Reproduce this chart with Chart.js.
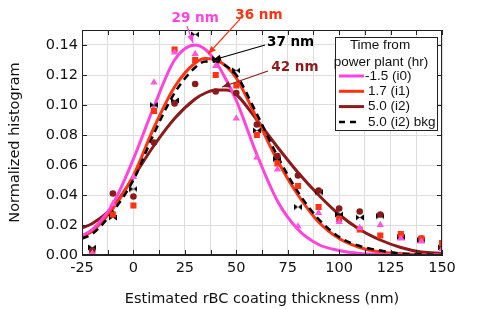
<!DOCTYPE html>
<html>
<head>
<meta charset="utf-8">
<script src="https://cdn.jsdelivr.net/npm/chart.js@4.4.1/dist/chart.umd.min.js"></script>
<style>
  body { margin: 0; background: #fff; }
  #wrap { width: 478px; height: 309px; }
</style>
</head>
<body>
<div id="wrap"><canvas id="myChart" width="478" height="309"></canvas></div>
<script>
// fitted curves
var curveX = [-25, -20, -10, 0, 10, 20, 30, 35, 40, 45, 50, 60, 70, 80, 90, 100, 110, 120, 130, 140, 150];
var fitI0  = [0.013, 0.017, 0.034, 0.064, 0.099, 0.130, 0.140, 0.137, 0.129, 0.117, 0.103, 0.067, 0.036, 0.017, 0.007, 0.003, 0.001, 0.0004, 0.0001, 0, 0];
var fitI1  = [0.012, 0.016, 0.031, 0.053, 0.085, 0.112, 0.128, 0.131, 0.130, 0.126, 0.118, 0.091, 0.063, 0.040, 0.022, 0.011, 0.005, 0.002, 0.001, 0.0003, 0];
var fitI2  = [0.018, 0.021, 0.032, 0.052, 0.073, 0.091, 0.104, 0.108, 0.110, 0.110, 0.107, 0.090, 0.072, 0.055, 0.040, 0.027, 0.017, 0.010, 0.005, 0.002, 0.001];
var fitBkg = [0.011, 0.014, 0.029, 0.050, 0.081, 0.108, 0.125, 0.129, 0.129, 0.126, 0.120, 0.094, 0.066, 0.042, 0.024, 0.012, 0.006, 0.003, 0.001, 0.0005, 0];

// histogram points
var binX    = [-20, -10, 0, 10, 20, 30, 40, 50, 60, 70, 80, 90, 100, 110, 120, 130, 140, 150];
var histI0  = [0.001, 0.034, 0.052, 0.115, 0.135, 0.134, 0.126, 0.091, 0.065, 0.057, 0.019, 0.028, 0.022, 0.018, 0.020, 0.011, 0.009, 0.004];
var histI1  = [0.000, 0.027, 0.033, 0.096, 0.137, 0.130, 0.120, 0.113, 0.080, 0.061, 0.046, 0.032, 0.024, 0.017, 0.013, 0.014, 0.011, 0.008];
var histI2  = [0.003, 0.041, 0.039, 0.075, 0.101, 0.114, 0.109, 0.108, 0.087, 0.066, 0.053, 0.043, 0.031, 0.029, 0.027, 0.013, 0.011, 0.006];
var histBkg = [0.005, 0.025, 0.044, 0.100, 0.103, 0.147, 0.131, 0.123, 0.083, 0.064, 0.032, 0.042, 0.027, 0.025, 0.026, 0.012, 0.010, 0.005];

var yTicks = [0, 0.02, 0.04, 0.06, 0.08, 0.10, 0.12, 0.14];
var legendTitle = ['Time from', 'power plant (hr)'];
var legendLabels = ['-1.5 (i0)', '1.7 (i1)', '5.0 (i2)', '5.0 (i2) bkg'];
var peakLabels = ['29 nm', '36 nm', '37 nm', '42 nm'];

var xTitle = 'Estimated rBC coating thickness (nm)';
var yTitle = 'Normalized histogram';

var PINK = '#ff44dd', RED = '#ff3311', DARK = '#8b1a1a', BLACK = '#000000';
var FONT = "'DejaVu Sans', sans-serif";

function pts(xs, ys) {
  return xs.map(function (x, i) { return { x: x, y: ys[i] }; });
}

// bow-tie marker for the bkg points
var bkgMark = document.createElement('canvas');
bkgMark.width = 8; bkgMark.height = 7;
var bc = bkgMark.getContext('2d');
bc.fillStyle = '#000';
bc.beginPath(); bc.moveTo(0, 0.5); bc.lineTo(4, 3.5); bc.lineTo(0, 6.5); bc.closePath(); bc.fill();
bc.beginPath(); bc.moveTo(8, 0.5); bc.lineTo(4, 3.5); bc.lineTo(8, 6.5); bc.closePath(); bc.fill();

// arrows to the fitted peaks (data coords)
var notes = [
  { text: peakLabels[0], color: PINK,  tx: 30,   ty: 0.158,  fx: 26,   fy: 0.1527, ax: 29,   ay: 0.1413 },
  { text: peakLabels[1], color: RED,   tx: 61,   ty: 0.160,  fx: 51.8, fy: 0.1573, ax: 36.3, ay: 0.134 },
  { text: peakLabels[2], color: BLACK, tx: 76.4, ty: 0.142,  fx: 64,   fy: 0.140,  ax: 38.7, ay: 0.130 },
  { text: peakLabels[3], color: DARK,  tx: 78.5, ty: 0.1247, fx: 65.4, fy: 0.1227, ax: 43.1, ay: 0.112 }
];

function arrow(ctx, x1, y1, x2, y2, color) {
  ctx.strokeStyle = color; ctx.fillStyle = color; ctx.lineWidth = 1.2;
  ctx.beginPath(); ctx.moveTo(x1, y1); ctx.lineTo(x2, y2); ctx.stroke();
  var a = Math.atan2(y2 - y1, x2 - x1), L = 8, W = 3.2;
  ctx.beginPath();
  ctx.moveTo(x2, y2);
  ctx.lineTo(x2 - L * Math.cos(a) + W * Math.sin(a), y2 - L * Math.sin(a) - W * Math.cos(a));
  ctx.lineTo(x2 - L * Math.cos(a) - W * Math.sin(a), y2 - L * Math.sin(a) + W * Math.cos(a));
  ctx.closePath(); ctx.fill();
}

var extras = {
  id: 'extras',
  afterDraw: function (chart) {
    var ctx = chart.ctx, a = chart.chartArea, xs = chart.scales.x, ys = chart.scales.y;
    ctx.save();
    // frame + inward ticks
    ctx.strokeStyle = '#222'; ctx.lineWidth = 1;
    ctx.strokeRect(a.left + 0.5, a.top + 0.5, a.right - a.left - 1, a.bottom - a.top - 1);
    ctx.beginPath();
    xs.ticks.forEach(function (t) {
      var px = Math.round(xs.getPixelForValue(t.value)) + 0.5;
      ctx.moveTo(px, a.bottom); ctx.lineTo(px, a.bottom - 5);
      ctx.moveTo(px, a.top); ctx.lineTo(px, a.top + 5);
    });
    ys.ticks.forEach(function (t) {
      var py = Math.round(ys.getPixelForValue(t.value)) + 0.5;
      ctx.moveTo(a.left, py); ctx.lineTo(a.left + 5, py);
      ctx.moveTo(a.right, py); ctx.lineTo(a.right - 5, py);
    });
    ctx.stroke();

    // peak annotations
    ctx.font = 'bold 13.5px ' + FONT;
    ctx.textAlign = 'center'; ctx.textBaseline = 'middle';
    notes.forEach(function (n) {
      ctx.fillStyle = n.color;
      ctx.fillText(n.text, xs.getPixelForValue(n.tx), ys.getPixelForValue(n.ty));
      arrow(ctx, xs.getPixelForValue(n.fx), ys.getPixelForValue(n.fy),
            xs.getPixelForValue(n.ax), ys.getPixelForValue(n.ay), n.color);
    });

    // legend box
    var bx = a.right - 107, by = a.top + 7, bw = 102, bh = 93;
    ctx.fillStyle = '#fff'; ctx.fillRect(bx, by, bw, bh);
    ctx.strokeStyle = '#222'; ctx.lineWidth = 1;
    ctx.strokeRect(bx + 0.5, by + 0.5, bw, bh);
    ctx.fillStyle = '#111';
    ctx.font = "13.5px 'Liberation Sans', Arial, sans-serif";
    ctx.textAlign = 'center';
    ctx.fillText(legendTitle[0], bx + 45, by + 8);
    ctx.fillText(legendTitle[1], bx + 46, by + 25);
    var cols = [PINK, RED, DARK, BLACK];
    ctx.textAlign = 'left';
    legendLabels.forEach(function (lab, i) {
      var ly = by + 39 + i * 15.3;
      ctx.strokeStyle = cols[i]; ctx.lineWidth = 3;
      if (i === 3) { ctx.setLineDash([6, 5]); ctx.lineWidth = 2.5; }
      ctx.beginPath(); ctx.moveTo(bx + 4, ly); ctx.lineTo(bx + (i === 3 ? 22 : 29), ly); ctx.stroke();
      ctx.setLineDash([]);
      ctx.fillText(lab, bx + (i === 0 ? 30 : 33), ly);
    });
    ctx.restore();
  }
};

var datasets = [
  { data: pts(curveX, fitI0),  showLine: true, borderColor: PINK,  borderWidth: 3,   pointRadius: 0, cubicInterpolationMode: 'monotone', order: 2 },
  { data: pts(curveX, fitI1),  showLine: true, borderColor: RED,   borderWidth: 3,   pointRadius: 0, cubicInterpolationMode: 'monotone', order: 2 },
  { data: pts(curveX, fitI2),  showLine: true, borderColor: DARK,  borderWidth: 3,   pointRadius: 0, cubicInterpolationMode: 'monotone', order: 2 },
  { data: pts(curveX, fitBkg), showLine: true, borderColor: BLACK, borderWidth: 2.5, borderDash: [7, 5], pointRadius: 0, cubicInterpolationMode: 'monotone', order: 1 },
  { data: pts(binX, histI0),  pointStyle: 'triangle', pointRadius: 4.2, backgroundColor: '#ff55e0', borderWidth: 0, order: 0 },
  { data: pts(binX, histI1),  pointStyle: 'rect',     pointRadius: 4.3, backgroundColor: RED,       borderWidth: 0, order: 0 },
  { data: pts(binX, histI2),  pointStyle: 'circle',   pointRadius: 3.3, backgroundColor: DARK,      borderWidth: 0, order: 0 },
  { data: pts(binX, histBkg), pointStyle: bkgMark,    pointRadius: 4,   backgroundColor: BLACK,     borderWidth: 0, order: 0 }
];

var config = {
  type: 'scatter',
  data: { datasets: datasets },
  options: {
    responsive: false,
    animation: false,
    devicePixelRatio: 1,
    layout: { padding: { top: 30, right: 36, left: 0, bottom: 0 } },
    plugins: { legend: { display: false }, tooltip: { enabled: false } },
    scales: {
      x: {
        type: 'linear', min: -25, max: 150,
        grid: { color: '#dddddd', drawTicks: false },
        border: { color: '#222' },
        ticks: {
          stepSize: 12.5, autoSkip: false, maxRotation: 0, padding: 5,
          color: '#111', font: { family: FONT, size: 14.5 },
          callback: function (v) { return v % 25 === 0 ? v : ''; }
        },
        title: { display: true, text: xTitle, color: '#111', font: { family: FONT, size: 14.5 }, padding: { top: 8, bottom: 1 } },
        afterFit: function (s) { s.height = 54; }
      },
      y: {
        min: 0, max: 0.15,
        grid: { color: '#dddddd', drawTicks: false },
        border: { color: '#222' },
        afterBuildTicks: function (s) {
          s.ticks = yTicks.map(function (v) { return { value: v }; });
        },
        ticks: {
          padding: 4, autoSkip: false,
          color: '#111', font: { family: FONT, size: 14.5 },
          callback: function (v) { return v.toFixed(2); }
        },
        title: { display: true, text: yTitle, color: '#111', font: { family: FONT, size: 14.5 }, padding: { top: 7, bottom: 6 } },
        afterFit: function (s) { s.width = 82; }
      }
    }
  },
  plugins: [extras]
};

var myChart = new Chart(document.getElementById('myChart'), config);
</script>
</body>
</html>
